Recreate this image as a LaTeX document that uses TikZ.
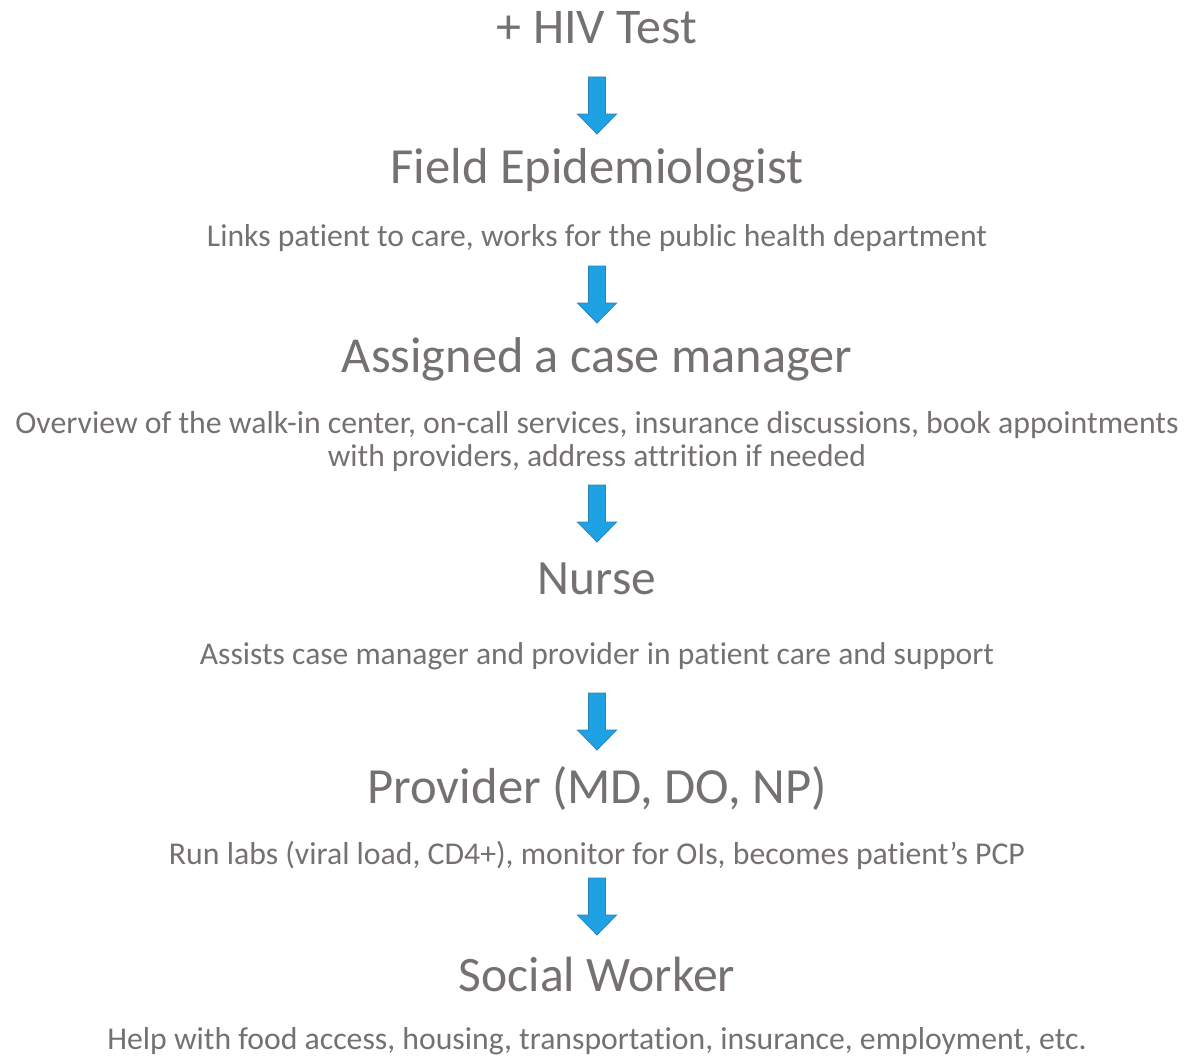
\documentclass[tikz,border=0pt]{standalone}
\usepackage{fontspec}
\setmainfont{Carlito}[Ligatures=NoCommon]
\usepackage{graphicx}
\definecolor{txt}{RGB}{118,113,113}
\definecolor{arrfill}{RGB}{30,162,228}
\definecolor{arrline}{RGB}{45,130,190}
\tikzset{
  lbl/.style={text=txt, inner sep=0pt, anchor=center, align=center},
  blockarrow/.pic={
    \path[fill=arrfill, draw=arrline, line width=0.8pt, line join=miter]
      (-8.5,0) -- (8.5,0) -- (8.5,37) -- (19.5,37) -- (0,57) -- (-19.5,37) -- (-8.5,37) -- cycle;
  }
}
\newcommand{\fitw}[2]{\resizebox{#1pt}{!}{#2}}
\begin{document}
\begin{tikzpicture}[x=1pt,y=-1pt]
\useasboundingbox (0,0) rectangle (1187,1057);
\node[lbl] (hiv) at (597,28) {\fitw{200}{+ HIV Test}};
\pic at (597,77) {blockarrow};
\node[lbl] (fe) at (597,170) {\fitw{413}{Field Epidemiologist}};
\node[lbl] (fed) at (597,238) {\fitw{780}{Links patient to care, works for the public health department}};
\pic at (597,266) {blockarrow};
\node[lbl] (cm) at (597,359) {\fitw{510}{Assigned a case manager}};
\node[lbl] (cmd1) at (597,425) {\fitw{1163}{Overview of the walk-in center, on-call services, insurance discussions, book appointments}};
\node[lbl] (cmd2) at (597,458) {\fitw{538}{with providers, address attrition if needed}};
\pic at (597,485) {blockarrow};
\node[lbl] (nu) at (597,579) {\fitw{118}{Nurse}};
\node[lbl] (nud) at (597,656) {\fitw{794}{Assists case manager and provider in patient care and support}};
\pic at (597,693) {blockarrow};
\node[lbl] (pr) at (597,788) {\fitw{459}{Provider (MD, DO, NP)}};
\node[lbl] (prd) at (597,855) {\fitw{856}{Run labs (viral load, CD4+), monitor for OIs, becomes patient’s PCP}};
\pic at (597,878) {blockarrow};
\node[lbl] (sw) at (597,974) {\fitw{276}{Social Worker}};
\node[lbl] (swd) at (597,1041) {\fitw{979}{Help with food access, housing, transportation, insurance, employment, etc.}};
\end{tikzpicture}
\end{document}
